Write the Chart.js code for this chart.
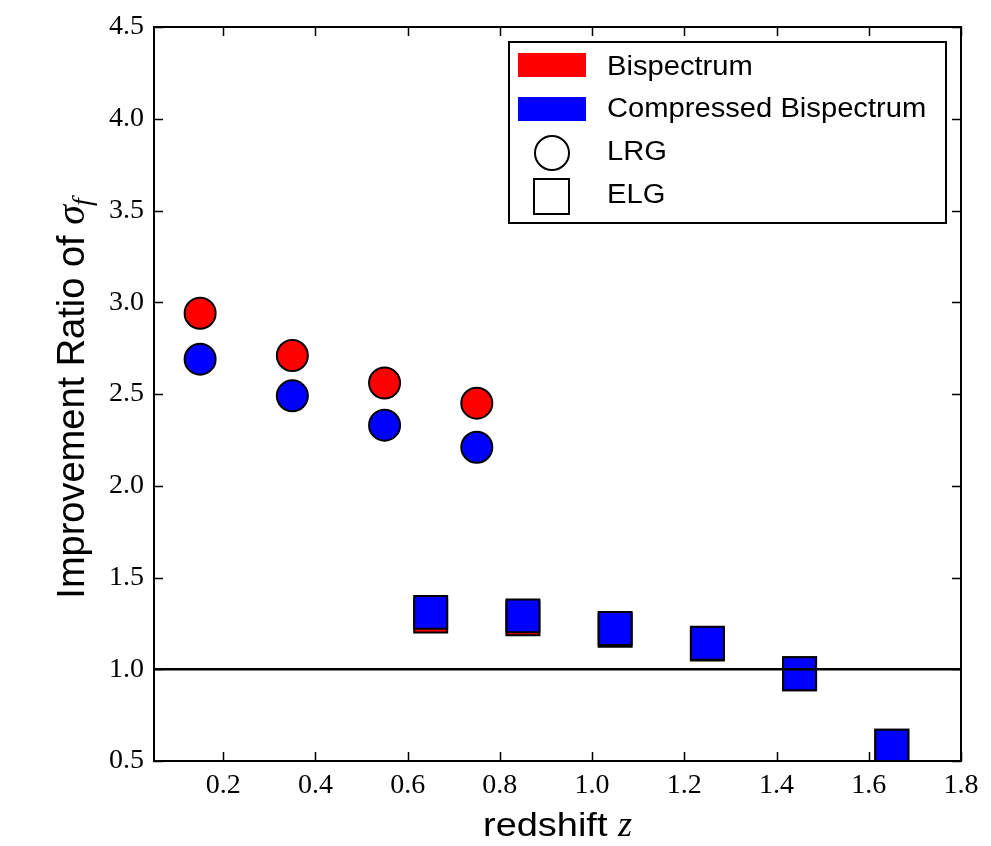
<!DOCTYPE html>
<html>
<head>
<meta charset="utf-8">
<script src="https://cdn.jsdelivr.net/npm/chart.js@4.4.1/dist/chart.umd.min.js"></script>
<style>
  html, body { margin: 0; padding: 0; background: #ffffff; }
  #wrap { width: 991px; height: 846px; }
</style>
</head>
<body>
<div id="wrap"><canvas id="c" width="991" height="846"></canvas></div>
<script>
// ---- data ----
const redshiftLRG = [0.15, 0.35, 0.55, 0.75];
const redshiftELG = [0.65, 0.85, 1.05, 1.25, 1.45, 1.65];
const bispectrumLRG = [2.94, 2.71, 2.56, 2.45];
const compressedLRG = [2.69, 2.49, 2.33, 2.21];
const bispectrumELG = [1.29, 1.275, 1.213, 1.137, 0.975, 0.58];
const compressedELG = [1.31, 1.291, 1.222, 1.142, 0.976, 0.58];
const xTickValues = [0.2, 0.4, 0.6, 0.8, 1.0, 1.2, 1.4, 1.6, 1.8];
const yTickValues = [0.5, 1.0, 1.5, 2.0, 2.5, 3.0, 3.5, 4.0, 4.5];
const referenceRatio = 1.0;
const xMin = 0.05, xMax = 1.8, yMin = 0.5, yMax = 4.5;
const legendLabels = ['Bispectrum', 'Compressed Bispectrum', 'LRG', 'ELG'];
const xTitle = 'redshift ';
const xTitleVar = 'z';
const yTitle = 'Improvement Ratio of ';

const RED = '#ff0000', BLUE = '#0000ff';

function pts(xs, ys) { return xs.map((x, i) => ({ x: x, y: ys[i] })); }

const framePlugin = {
  id: 'frame',
  afterDraw(chart) {
    const ctx = chart.ctx;
    const { left, right, top, bottom } = chart.chartArea;
    const xs = chart.scales.x, ys = chart.scales.y;
    ctx.save();
    ctx.strokeStyle = '#000';
    // ticks (inward, all four sides)
    ctx.lineWidth = 1.5;
    const tl = 9;
    ctx.beginPath();
    xTickValues.forEach(v => {
      const p = Math.round(xs.getPixelForValue(v)) + 0.5;
      ctx.moveTo(p, bottom); ctx.lineTo(p, bottom - tl);
      ctx.moveTo(p, top); ctx.lineTo(p, top + tl);
    });
    yTickValues.forEach(v => {
      const p = Math.round(ys.getPixelForValue(v)) + 0.5;
      ctx.moveTo(left, p); ctx.lineTo(left + tl, p);
      ctx.moveTo(right, p); ctx.lineTo(right - tl, p);
    });
    ctx.stroke();
    // frame
    ctx.lineWidth = 2;
    ctx.strokeRect(left, top, right - left, bottom - top);

    // x title
    const fx = 1.15;
    ctx.fillStyle = '#000';
    ctx.textBaseline = 'alphabetic';
    ctx.textAlign = 'left';
    ctx.font = '33px "Liberation Sans", Arial, sans-serif';
    const w1 = ctx.measureText(xTitle).width * fx;
    ctx.font = 'italic 36px "Liberation Serif", serif';
    const wz = ctx.measureText(xTitleVar).width;
    const cx = (left + right) / 2;
    let sx = cx - (w1 + wz) / 2;
    const by = 836;
    ctx.save();
    ctx.translate(sx, by);
    ctx.scale(fx, 1);
    ctx.font = '33px "Liberation Sans", Arial, sans-serif';
    ctx.fillText(xTitle, 0, 0);
    ctx.restore();
    ctx.font = 'italic 36px "Liberation Serif", serif';
    ctx.fillText(xTitleVar, sx + w1, by);

    // y title (rotated)
    ctx.save();
    const cy = (top + bottom) / 2 + 4;
    ctx.translate(84, cy);
    ctx.rotate(-Math.PI / 2);
    ctx.font = '38px "Liberation Sans", Arial, sans-serif';
    const wa = ctx.measureText(yTitle).width;
    ctx.font = 'italic 40px "Liberation Serif", serif';
    const ws = ctx.measureText('σ').width;
    ctx.font = 'italic 28px "Liberation Serif", serif';
    const wf = ctx.measureText('f').width;
    const tot = wa + ws + wf;
    let x0 = -tot / 2;
    ctx.font = '38px "Liberation Sans", Arial, sans-serif';
    ctx.fillText(yTitle, x0, 0);
    ctx.font = 'italic 40px "Liberation Serif", serif';
    ctx.fillText('σ', x0 + wa, 0);
    ctx.font = 'italic 28px "Liberation Serif", serif';
    ctx.fillText('f', x0 + wa + ws - 1, 7);
    ctx.restore();

    // legend
    const lx = right - 15 - 437, ly = top + 15, lw = 437, lh = 181;
    ctx.fillStyle = '#fff';
    ctx.fillRect(lx, ly, lw, lh);
    ctx.lineWidth = 2;
    ctx.strokeStyle = '#000';
    ctx.strokeRect(lx, ly, lw, lh);
    // patches
    ctx.fillStyle = RED;
    ctx.fillRect(lx + 9, ly + 11, 68, 24);
    ctx.fillStyle = BLUE;
    ctx.fillRect(lx + 9, ly + 55, 68, 24);
    // circle
    ctx.beginPath();
    ctx.arc(lx + 43, ly + 111, 17, 0, Math.PI * 2);
    ctx.fillStyle = '#fff';
    ctx.fill();
    ctx.lineWidth = 2;
    ctx.stroke();
    // square
    ctx.beginPath();
    ctx.rect(lx + 25, ly + 137, 35, 35);
    ctx.fill();
    ctx.stroke();
    // texts
    ctx.fillStyle = '#000';
    const baselines = [ly + 33, ly + 75, ly + 118, ly + 161];
    legendLabels.forEach((t, i) => {
      ctx.save();
      ctx.translate(lx + 98, baselines[i]);
      ctx.scale(1.08, 1);
      ctx.font = '27px "Liberation Sans", Arial, sans-serif';
      ctx.fillText(t, 0, 0);
      ctx.restore();
    });
    ctx.restore();
  }
};

const tickFont = { family: '"Liberation Serif", "DejaVu Serif", serif', size: 28 };

new Chart(document.getElementById('c'), {
  type: 'scatter',
  data: {
    datasets: [
      {
        type: 'line', label: 'ref', order: 0,
        data: [{ x: xMin, y: referenceRatio }, { x: xMax, y: referenceRatio }],
        borderColor: '#000', borderWidth: 2.5, pointRadius: 0, fill: false, clip: 0
      },
      {
        label: 'Compressed LRG', order: 1, data: pts(redshiftLRG, compressedLRG),
        pointStyle: 'circle', pointRadius: 15.5, backgroundColor: BLUE,
        borderColor: '#000', borderWidth: 2, clip: 0
      },
      {
        label: 'Compressed ELG', order: 1, data: pts(redshiftELG, compressedELG),
        pointStyle: 'rect', pointRadius: 23.3, backgroundColor: BLUE,
        borderColor: '#000', borderWidth: 2, clip: 0
      },
      {
        label: 'Bispectrum LRG', order: 2, data: pts(redshiftLRG, bispectrumLRG),
        pointStyle: 'circle', pointRadius: 15.5, backgroundColor: RED,
        borderColor: '#000', borderWidth: 2, clip: 0
      },
      {
        label: 'Bispectrum ELG', order: 2, data: pts(redshiftELG, bispectrumELG),
        pointStyle: 'rect', pointRadius: 23.3, backgroundColor: RED,
        borderColor: '#000', borderWidth: 2, clip: 0
      }
    ]
  },
  options: {
    responsive: false,
    animation: false,
    devicePixelRatio: 1,
    layout: { padding: { left: 0, top: 27, right: 30, bottom: 0 } },
    plugins: { legend: { display: false }, tooltip: { enabled: false } },
    scales: {
      x: {
        type: 'linear', min: xMin, max: xMax,
        grid: { display: false, drawTicks: false },
        border: { display: false },
        afterBuildTicks: s => { s.ticks = xTickValues.map(v => ({ value: v })); },
        afterFit: s => { s.height = 85; },
        ticks: { color: '#000', font: tickFont, padding: 8, maxRotation: 0, autoSkip: false,
                 callback: v => Number(v).toFixed(1) }
      },
      y: {
        type: 'linear', min: yMin, max: yMax,
        grid: { display: false, drawTicks: false },
        border: { display: false },
        afterBuildTicks: s => { s.ticks = yTickValues.map(v => ({ value: v })); },
        afterFit: s => { s.width = 154; },
        ticks: { color: '#000', font: tickFont, padding: 10, autoSkip: false,
                 callback: v => Number(v).toFixed(1) }
      }
    }
  },
  plugins: [framePlugin]
});
</script>
</body>
</html>
